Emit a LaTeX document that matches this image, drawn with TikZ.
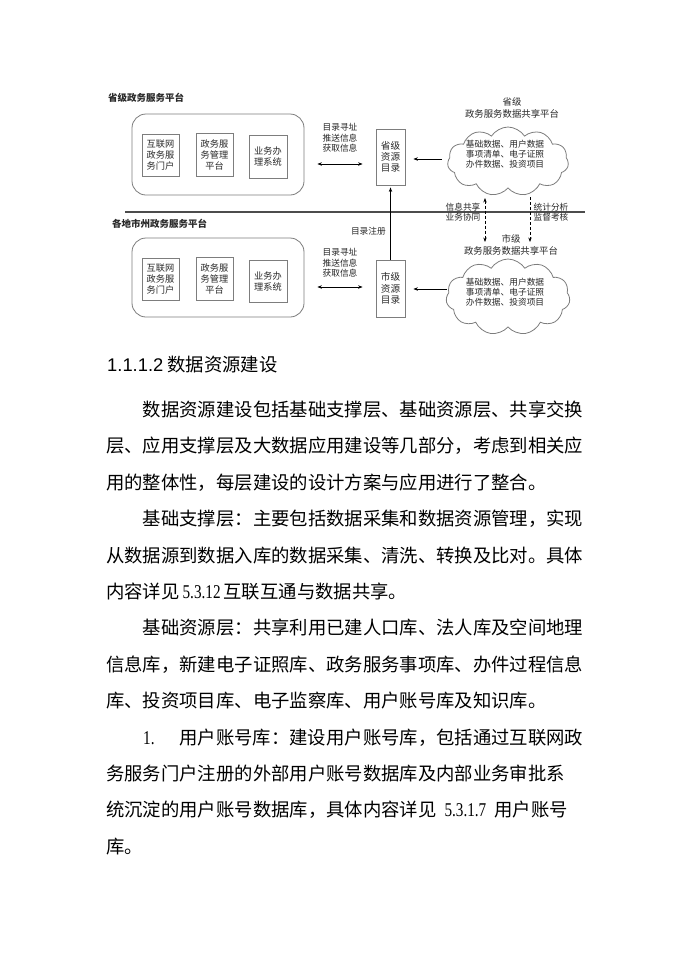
\documentclass[tikz,border=0pt]{standalone}
\usepackage{fontspec}
\setmainfont{Liberation Serif}
\newfontfamily\cjk{Noto Sans CJK SC}
\newfontfamily\arialf{Liberation Sans}
\newfontfamily\latf[FakeStretch=0.78]{Liberation Serif}
\usetikzlibrary{arrows.meta,shapes.symbols}
\definecolor{bd}{RGB}{125,125,125}
\definecolor{tx}{RGB}{40,40,40}
\tikzset{
  lbl/.style={font=\cjk\fontsize{8.7}{10.3}\selectfont, align=center, inner sep=0pt, text=tx},
  ttl/.style={font=\cjk\bfseries\fontsize{9.5}{11}\selectfont, anchor=west, inner sep=0pt, text=tx},
  ibox/.style={draw=bd, line width=0.8pt, minimum width=37, minimum height=42, inner sep=0pt,
     font=\cjk\fontsize{9.2}{11}\selectfont, align=center, text=tx},
  rbox/.style={draw=bd, line width=0.8pt, rounded corners=14pt, minimum width=172, minimum height=81, inner sep=0pt},
  dbox/.style={draw=bd, line width=0.8pt, minimum width=29, minimum height=56, inner sep=0pt,
     font=\cjk\fontsize{9.6}{11.2}\selectfont, align=center, text=tx},
  cld/.style={cloud, draw=bd, line width=0.8pt, cloud puffs=11, cloud puff arc=115, cloud ignores aspect, inner sep=0pt},
  arr/.style={-{Stealth[length=4.5pt,width=3.4pt]}, line width=0.9pt},
  dbl/.style={{Stealth[length=4.5pt,width=3.4pt]}-{Stealth[length=4.5pt,width=3.4pt]}, line width=0.9pt},
  dsh/.style={dash pattern=on 3pt off 2pt},
  body/.style={font=\cjk\fontsize{18.35}{20}\selectfont, anchor=west, inner sep=0pt, text height=15.6pt, text depth=2.75pt},
}
\newcommand{\lat}[1]{{\latf\fontsize{19.5}{20}\selectfont #1}}
\begin{document}
\begin{tikzpicture}[x=1pt,y=-1pt]
\fill[white] (0,0) rectangle (690,975);
\useasboundingbox (0,0) rectangle (690,975);

% ---------- province level ----------
\node[ttl] (pt) at (108,98) {省级政务服务平台};
\node[rbox] (P) at (218,154.5) {};
\node[ibox] (pa) at (160.5,155) {互联网\\政务服\\务门户};
\node[ibox, minimum height=43] (pb) at (214.5,154.5) {政务服\\务管理\\平台};
\node[ibox, minimum width=38, minimum height=43] (pc) at (268,156.5) {业务办\\理系统};
\node[dbox] (pdir) at (390.5,157) {省级\\资源\\目录};
\node[lbl] (pl) at (340,138) {目录寻址\\推送信息\\获取信息};
\coordinate (py) at (340,164);
\draw[dbl, shorten <=13pt, shorten >=13pt] (P.east |- py) -- (pdir.west |- py);

\node[lbl, font=\cjk\fontsize{9.4}{11.6}\selectfont] (pct) at (512,108) {省级\\政务服务数据共享平台};
\node[cld, minimum width=121, minimum height=69] (pcl) at (508,161.5) {};
\node[lbl] (pctx) at (505,154) {基础数据、用户数据\\事项清单、电子证照\\办件数据、投资项目};
\coordinate (pc1) at (442,159);
\draw[arr, shorten >=8pt] (pc1) -- (pdir.east |- pc1);

% ---------- separator ----------
\coordinate (hl1) at (125,212);
\coordinate (hl2) at (585,212);
\draw[line width=1.2pt, black!70] (hl1) -- (hl2);

% ---------- city level ----------
\node[ttl] (ct) at (112,224) {各地市州政务服务平台};
\node[rbox, minimum height=79] (C) at (218,277.5) {};
\node[ibox] (ca) at (160.5,279) {互联网\\政务服\\务门户};
\node[ibox, minimum height=43] (cb) at (214.5,278.5) {政务服\\务管理\\平台};
\node[ibox, minimum width=38] (cc) at (268,281) {业务办\\理系统};
\node[dbox, minimum height=57] (cdir) at (390.5,288.5) {市级\\资源\\目录};
\node[lbl] (cl) at (340,263) {目录寻址\\推送信息\\获取信息};
\coordinate (cy) at (340,287);
\draw[dbl, shorten <=13pt, shorten >=13pt] (C.east |- cy) -- (cdir.west |- cy);

\node[lbl, font=\cjk\fontsize{9.4}{11.6}\selectfont] (cct) at (511,245) {市级\\政务服务数据共享平台};
\node[cld, minimum width=124, minimum height=76] (ccl) at (508,297) {};
\node[lbl] (cctx) at (505,292) {基础数据、用户数据\\事项清单、电子证照\\办件数据、投资项目};
\coordinate (cc1) at (447,289);
\draw[arr, shorten >=8pt] (cc1) -- (cdir.east |- cc1);

% register arrow
\draw[arr, shorten >=2pt] (cdir.north) -- (pdir.south);
\node[lbl, anchor=east] (reg) at (386,231) {目录注册};

% dashed links
\coordinate (d1t) at (485,198);
\coordinate (d1b) at (485,242);
\coordinate (d2t) at (530,197);
\coordinate (d2b) at (530,242);
\draw[dbl, dsh] (d1t) -- (d1b);
\draw[arr, dsh] (d2t) -- (d2b);
\node[lbl] (ds1) at (463,212) {信息共享\\业务协同};
\node[lbl] (ds2) at (551,212) {统计分析\\监督考核};

% ---------- body text ----------
\node[body] (hd) at (107,365) {{\arialf 1.1.1.2} 数据资源建设};
\node[body] (l1) at (142.7,410) {数据资源建设包括基础支撑层、基础资源层、共享交换};
\node[body] (l2) at (106,446.4) {层、应用支撑层及大数据应用建设等几部分，考虑到相关应};
\node[body] (l3) at (106,482.8) {用的整体性，每层建设的设计方案与应用进行了整合。};
\node[body] (l4) at (142.7,519.2) {基础支撑层：主要包括数据采集和数据资源管理，实现};
\node[body] (l5) at (106,555.6) {从数据源到数据入库的数据采集、清洗、转换及比对。具体};
\node[body] (l6) at (106,592) {内容详见\hspace{3pt}\lat{5.3.12}\hspace{3pt}互联互通与数据共享。};
\node[body] (l7) at (142.7,628.4) {基础资源层：共享利用已建人口库、法人库及空间地理};
\node[body] (l8) at (106,664.8) {信息库，新建电子证照库、政务服务事项库、办件过程信息};
\node[body] (l9) at (106,701.2) {库、投资项目库、电子监察库、用户账号库及知识库。};
\node[body] (l10a) at (143,737.6) {\lat{1.}};
\node[body] (l10) at (179.3,737.6) {用户账号库：建设用户账号库，包括通过互联网政};
\node[body] (l11) at (106,774) {务服务门户注册的外部用户账号数据库及内部业务审批系};
\node[body] (l12) at (106,810.4) {统沉淀的用户账号数据库，具体内容详见\hspace{8pt}\lat{5.3.1.7}\hspace{8pt}用户账号};
\node[body] (l13) at (106,846.8) {库。};
\end{tikzpicture}
\end{document}
